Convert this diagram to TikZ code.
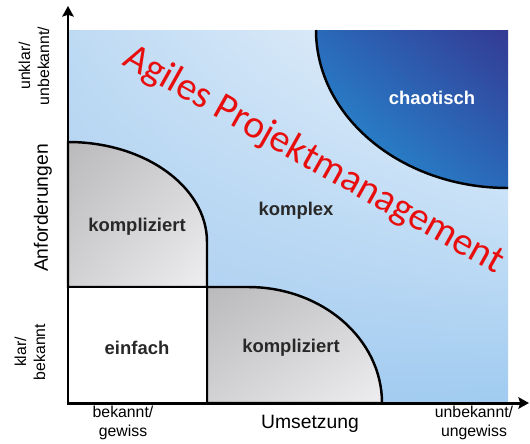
\documentclass[tikz,border=0pt]{standalone}
\usepackage{fontspec}
\setmainfont{Liberation Sans}
\newfontfamily\titlefont{Carlito}
\usetikzlibrary{shadings, calc, arrows.meta}
\definecolor{bgtl}{RGB}{190,218,243}
\definecolor{bgtr}{RGB}{236,244,252}
\definecolor{bgbl}{RGB}{168,205,240}
\definecolor{bgbr}{RGB}{160,203,240}
\definecolor{chtr}{RGB}{52,58,148}
\definecolor{chbl}{RGB}{38,150,215}
\definecolor{chmid}{RGB}{42,105,185}
\definecolor{gytl}{RGB}{186,186,189}
\definecolor{gymid}{RGB}{210,210,212}
\definecolor{gybr}{RGB}{238,238,240}
\definecolor{lblgray}{RGB}{40,40,40}
\definecolor{titlered}{RGB}{232,14,14}

\begin{document}
\begin{tikzpicture}
                [x=0.02cm, y=-0.02cm,
                asty/.style={{Stealth[length=6pt, width=6.5pt, inset=1pt]}-{Stealth[length=6pt, width=6.5pt, inset=1pt]}, line width=1.7pt},
                bsty/.style={draw=black, line width=1.4pt},
                gsty/.style={bsty, upper left=gytl, upper right=gymid, lower left=gymid, lower right=gybr},
                fsty/.style={font=\bfseries\fontsize{10.5}{12}\selectfont, text=lblgray},
                lsty/.style={font=\fontsize{9}{10.8}\selectfont, align=center, inner sep=0pt},
                tsty/.style={font=\fontsize{11}{13}\selectfont, inner sep=0pt}]
                \useasboundingbox (0,0) rectangle (530,443);
                % coordinates
                \coordinate (o)    at (68,403);
                \coordinate (ytip) at (68,6);
                \coordinate (xtip) at (529,403);
                % areas
                \shade[upper left=bgtl, upper right=bgtr, lower left=bgbl, lower right=bgbr]
                    (68,30) rectangle (508,403);
                \shade[upper left=chmid, upper right=chtr, lower left=chbl, lower right=chmid]
                    (316,30) arc[start angle=180, end angle=90, x radius=192, y radius=158]
                    -- (508,30) -- cycle;
                \draw[bsty] (316,30) arc[start angle=180, end angle=90, x radius=192, y radius=158];
                \shade[gsty] (68,287) -- (68,142)
                    arc[start angle=270, end angle=360, x radius=139, y radius=100]
                    -- (207,287) -- cycle;
                \shade[gsty] (207,403) -- (207,287) -- (248,287)
                    arc[start angle=270, end angle=360, x radius=134, y radius=116]
                    -- cycle;
                \filldraw[bsty, fill=white] (68,287) rectangle (207,403);
                % axes
                \draw[asty] (ytip) -- (o) -- (xtip);
                % nodes
                \node[fsty, text=white] (chao)    at (432,98)  {chaotisch};
                \node[fsty]             (komplex) at (296,211) {komplex};
                \node[fsty]             (kompa)   at (137,227) {kompliziert};
                \node[fsty]             (einfach) at (137,348) {einfach};
                \node[fsty]             (kompb)   at (291,348) {kompliziert};
                % axis labels
                \node[tsty, rotate=90] (anf)   at (43,208)  {Anforderungen};
                \node[lsty, rotate=90] (unkl)  at (34,66)   {unklar/\\unbekannt/};
                \node[lsty, rotate=90] (klar)  at (30,352)  {klar/\\bekannt};
                \node[lsty]            (bek)   at (123,423) {bekannt/\\gewiss};
                \node[tsty]            (ums)   at (310,424) {Umsetzung};
                \node[lsty]            (unbek) at (474,423) {unbekannt/\\ungewiss};
                % title
                \node[rotate=-29.3, anchor=base west, inner sep=0pt, text=titlered,
                      font=\titlefont\fontsize{22.4}{27}\selectfont]
                      (agile) at (121,64) {Agiles Projektmanagement};
            \end{tikzpicture}
\end{document}
